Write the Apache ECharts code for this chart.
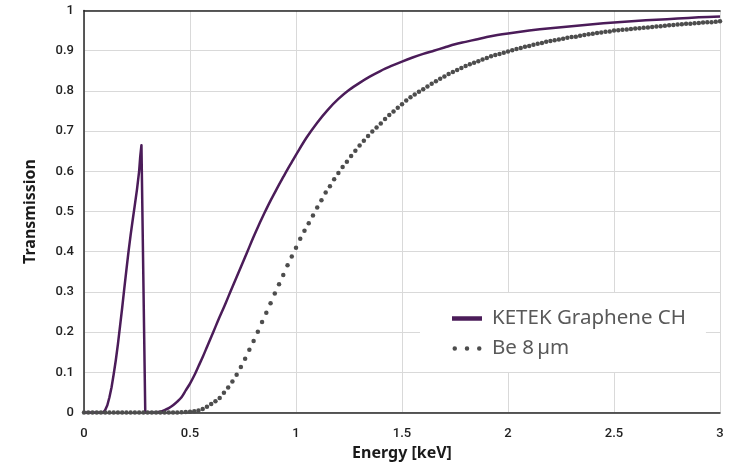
<!DOCTYPE html>
<html><head><meta charset="utf-8">
<script src="https://cdn.jsdelivr.net/npm/echarts@6/dist/echarts.min.js"></script>
<style>html,body{margin:0;padding:0;background:#fff}#c{width:734px;height:471px}</style>
</head><body><div id="c"></div>
<script>
// ---- data ----
const seriesNames = ['KETEK Graphene CH', 'Be 8\u2009µm'];

const grapheneEnergy = [0, 0.05, 0.09, 0.10, 0.11, 0.12, 0.13, 0.14, 0.15, 0.16, 0.17, 0.18, 0.19, 0.20, 0.21, 0.22, 0.23, 0.24, 0.25, 0.26, 0.265, 0.271, 0.289,
  0.30, 0.34, 0.36, 0.38, 0.40, 0.42, 0.44, 0.46, 0.48, 0.50, 0.52, 0.54, 0.56, 0.58, 0.60, 0.62, 0.64, 0.66, 0.68, 0.70, 0.72, 0.74, 0.76, 0.78, 0.80,
  0.82, 0.84, 0.86, 0.88, 0.90, 0.92, 0.94, 0.96, 0.98, 1.00, 1.05, 1.10, 1.15, 1.20, 1.25, 1.30, 1.35, 1.40, 1.45, 1.50, 1.55, 1.60, 1.65, 1.70, 1.75,
  1.80, 1.85, 1.90, 1.95, 2.00, 2.10, 2.20, 2.30, 2.40, 2.50, 2.60, 2.70, 2.80, 2.90, 3.00];
const grapheneTrans = [0, 0, 0, 0.006, 0.018, 0.038, 0.063, 0.095, 0.13, 0.17, 0.215, 0.26, 0.308, 0.355, 0.40, 0.442, 0.48, 0.517, 0.555, 0.60, 0.635, 0.665, 0,
  0, 0, 0.002, 0.006, 0.011, 0.018, 0.027, 0.038, 0.055, 0.072, 0.092, 0.115, 0.138, 0.163, 0.188, 0.213, 0.238, 0.262, 0.287, 0.312, 0.337, 0.362, 0.387, 0.412, 0.437,
  0.461, 0.484, 0.506, 0.527, 0.547, 0.567, 0.586, 0.605, 0.623, 0.641, 0.684, 0.721, 0.753, 0.780, 0.802, 0.820, 0.836, 0.850, 0.862, 0.873, 0.883, 0.892, 0.900, 0.908, 0.916,
  0.922, 0.928, 0.934, 0.939, 0.943, 0.950, 0.956, 0.961, 0.966, 0.970, 0.974, 0.977, 0.980, 0.983, 0.985];

const beEnergy = [0, 0.02, 0.04, 0.06, 0.08, 0.10, 0.12, 0.14, 0.16, 0.18, 0.20, 0.22, 0.24, 0.26, 0.28, 0.30, 0.32, 0.34, 0.36, 0.38, 0.40, 0.42, 0.44,
  0.46, 0.48, 0.50, 0.52, 0.54, 0.56, 0.58, 0.60, 0.62, 0.64, 0.66, 0.68, 0.70, 0.72, 0.74, 0.76, 0.78, 0.80, 0.82, 0.84, 0.86, 0.88, 0.90, 0.92, 0.94, 0.96, 0.98,
  1.00, 1.02, 1.04, 1.06, 1.08, 1.10, 1.12, 1.14, 1.16, 1.18, 1.20, 1.22, 1.24, 1.26, 1.28, 1.30, 1.32, 1.34, 1.36, 1.38, 1.40, 1.42, 1.44, 1.46, 1.48,
  1.50, 1.52, 1.54, 1.56, 1.58, 1.60, 1.62, 1.64, 1.66, 1.68, 1.70, 1.72, 1.74, 1.76, 1.78, 1.80, 1.82, 1.84, 1.86, 1.88, 1.90, 1.92, 1.94, 1.96, 1.98,
  2.00, 2.02, 2.04, 2.06, 2.08, 2.10, 2.12, 2.14, 2.16, 2.18, 2.20, 2.22, 2.24, 2.26, 2.28, 2.30, 2.32, 2.34, 2.36, 2.38, 2.40, 2.42, 2.44, 2.46, 2.48,
  2.50, 2.52, 2.54, 2.56, 2.58, 2.60, 2.62, 2.64, 2.66, 2.68, 2.70, 2.72, 2.74, 2.76, 2.78, 2.80, 2.82, 2.84, 2.86, 2.88, 2.90, 2.92, 2.94, 2.96, 2.98, 3.00];
const beTrans = [0, 0, 0, 0, 0, 0, 0, 0, 0, 0, 0, 0, 0, 0, 0, 0, 0, 0, 0, 0, 0, 0, 0,
  0.0005, 0.001, 0.002, 0.003, 0.005, 0.009, 0.014, 0.021, 0.028, 0.036, 0.049, 0.062, 0.077, 0.094, 0.113, 0.134, 0.156, 0.178, 0.201, 0.225, 0.248, 0.272, 0.296, 0.319, 0.342, 0.366, 0.388,
  0.410, 0.432, 0.452, 0.471, 0.490, 0.510, 0.528, 0.547, 0.563, 0.580, 0.596, 0.611, 0.624, 0.638, 0.651, 0.664, 0.676, 0.688, 0.699, 0.709, 0.719, 0.730, 0.740, 0.749, 0.758,
  0.767, 0.776, 0.784, 0.791, 0.798, 0.804, 0.811, 0.818, 0.824, 0.830, 0.836, 0.842, 0.847, 0.852, 0.857, 0.862, 0.866, 0.870, 0.874, 0.878, 0.882, 0.886, 0.889, 0.892, 0.895,
  0.898, 0.901, 0.904, 0.907, 0.910, 0.912, 0.915, 0.917, 0.919, 0.922, 0.924, 0.926, 0.928, 0.930, 0.932, 0.934, 0.935, 0.937, 0.939, 0.941, 0.942, 0.944, 0.945, 0.947, 0.948,
  0.950, 0.951, 0.952, 0.953, 0.954, 0.955, 0.956, 0.957, 0.958, 0.959, 0.960, 0.961, 0.962, 0.963, 0.964, 0.965, 0.966, 0.967, 0.967, 0.968, 0.969, 0.970, 0.971, 0.971, 0.972, 0.973];

const xTickLabels = ['0', '0.5', '1', '1.5', '2', '2.5', '3'];
const yTickLabels = ['0', '0.1', '0.2', '0.3', '0.4', '0.5', '0.6', '0.7', '0.8', '0.9', '1'];
const xTitle = 'Energy [keV]';
const yTitle = 'Transmission';

// ---- chart ----
const chart = echarts.init(document.getElementById('c'), null, {renderer: 'canvas'});
const tickFont = {fontFamily: 'Roboto', fontSize: 13, fontWeight: 500, color: '#1f1f1f'};
const gridColor = '#d9d9d9';
const purple = '#4b1c59';
const grey = '#4d4d4d';

const graphenePts = grapheneEnergy.map((e, i) => [e, grapheneTrans[i]]);
const edgeSplit = grapheneEnergy.indexOf(0.34); // sharp carbon-edge part drawn unsmoothed

chart.setOption({
  animation: false,
  backgroundColor: '#fff',
  grid: {left: 84, right: 14, top: 10.5, bottom: 58.5, containLabel: false},
  xAxis: [{
    type: 'value', min: 0, max: 3, interval: 0.5,
    name: xTitle, nameLocation: 'middle', nameGap: 31,
    nameTextStyle: {fontFamily: 'Noto Sans', fontWeight: 'bold', fontSize: 16, color: '#1a1a1a'},
    axisLine: {show: true, onZero: false, lineStyle: {color: '#262626', width: 1.5}},
    axisTick: {show: false},
    axisLabel: Object.assign({margin: 15, formatter: v => xTickLabels[Math.round(v * 2)]}, tickFont),
    splitLine: {show: true, lineStyle: {color: gridColor, width: 1}}
  }, {
    type: 'value', min: 0, max: 3, position: 'top',
    axisLine: {show: true, onZero: false, lineStyle: {color: '#262626', width: 1.5}},
    axisTick: {show: false}, axisLabel: {show: false}, splitLine: {show: false}
  }],
  yAxis: {
    type: 'value', min: 0, max: 1, interval: 0.1,
    name: yTitle, nameLocation: 'middle', nameGap: 46,
    nameTextStyle: {fontFamily: 'Noto Sans', fontWeight: 'bold', fontSize: 16, color: '#1a1a1a'},
    axisLine: {show: true, onZero: false, lineStyle: {color: '#262626', width: 1.5}},
    axisTick: {show: false},
    axisLabel: Object.assign({margin: 10, formatter: v => yTickLabels[Math.round(v * 10)]}, tickFont),
    splitLine: {show: true, lineStyle: {color: gridColor, width: 1}}
  },
  legend: {
    orient: 'vertical',
    left: 420, top: 293,
    padding: [15, 20, 13, 32],
    backgroundColor: '#ffffff',
    itemWidth: 40, itemHeight: 4.5, itemGap: 9,
    symbolKeepAspect: true,
    itemStyle: {borderWidth: 0},
    textStyle: {fontFamily: 'Noto Sans', fontSize: 20.5, color: '#595959', lineHeight: 20},
    data: [
      {name: seriesNames[0], icon: 'path://M0,0H30V4.5H0Z'},
      {name: seriesNames[1], icon: 'path://M0,2.25a2.25,2.25 0 1,0 4.5,0a2.25,2.25 0 1,0 -4.5,0M12.25,2.25a2.25,2.25 0 1,0 4.5,0a2.25,2.25 0 1,0 -4.5,0M24.5,2.25a2.25,2.25 0 1,0 4.5,0a2.25,2.25 0 1,0 -4.5,0'}
    ]
  },
  series: [{
    name: seriesNames[0], type: 'line',
    data: graphenePts.slice(0, edgeSplit + 1),
    showSymbol: false, smooth: false, z: 2,
    color: purple,
    lineStyle: {color: purple, width: 2.5, join: 'round'}
  }, {
    name: seriesNames[0], type: 'line',
    data: graphenePts.slice(edgeSplit),
    showSymbol: false, smooth: 0.3, z: 2,
    color: purple,
    lineStyle: {color: purple, width: 2.5, join: 'round'}
  }, {
    name: seriesNames[1], type: 'line',
    data: beEnergy.map((e, i) => [e, beTrans[i]]),
    showSymbol: true, showAllSymbol: true, symbol: 'circle', symbolSize: 4.5,
    color: grey, z: 3,
    itemStyle: {color: grey, borderWidth: 0},
    lineStyle: {width: 0, opacity: 0}
  }]
});
</script>
</body></html>
